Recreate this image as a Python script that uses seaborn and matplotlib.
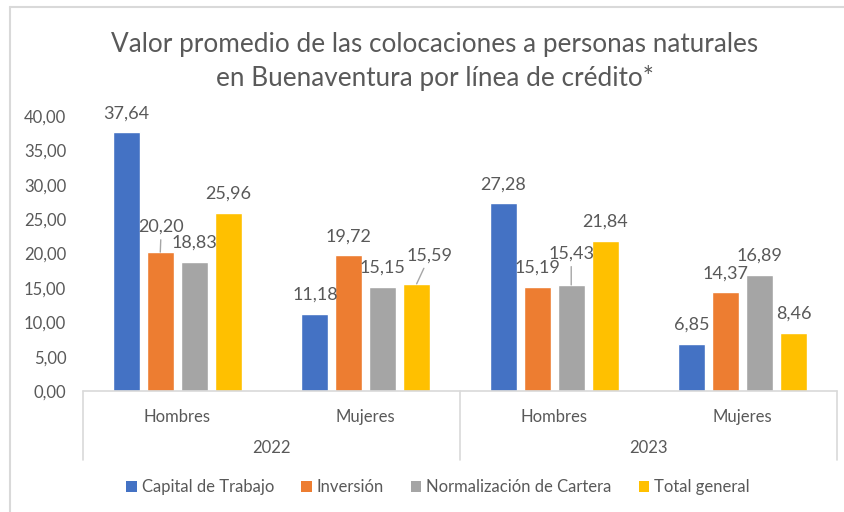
import pandas as pd
import seaborn as sns
import matplotlib.pyplot as plt
from matplotlib.lines import Line2D
from matplotlib.patches import Patch

# data
years = ["2022", "2023"]
genders = ["Hombres", "Mujeres"]
series = ["Capital de Trabajo", "Inversión", "Normalización de Cartera", "Total general"]
capital_trabajo = [37.64, 11.18, 27.28, 6.85]
inversion = [20.20, 19.72, 15.19, 14.37]
normalizacion = [18.83, 15.15, 15.43, 16.89]
total_general = [25.96, 15.59, 21.84, 8.46]

colors = ["#4472C4", "#ED7D31", "#A5A5A5", "#FFC000"]
text_color = "#595959"
line_color = "#D9D9D9"

groups = [f"{y} {g}" for y in years for g in genders]
rows = []
for name, vals in zip(series, [capital_trabajo, inversion, normalizacion, total_general]):
    for grp, v in zip(groups, vals):
        rows.append({"grupo": grp, "serie": name, "valor": v})
df = pd.DataFrame(rows)

sns.set_style("white")
plt.rcParams["font.family"] = ["Lato", "DejaVu Sans"]

fig = plt.figure(figsize=(8.44, 5.12), dpi=100)
ax = fig.add_axes([83 / 844, 121 / 512, 754 / 844, 275 / 512])

sns.barplot(data=df, x="grupo", y="valor", hue="serie", order=groups,
            hue_order=series, palette=colors, width=0.72, gap=0.2,
            saturation=1, legend=False, ax=ax)

ax.set_xlim(-0.5, 3.5)
ax.set_ylim(0, 40)
ax.set_yticks(range(0, 45, 5))
ax.set_yticklabels([f"{t:.2f}".replace(".", ",") for t in range(0, 45, 5)],
                   color=text_color, fontsize=12)
ax.tick_params(axis="y", length=0, pad=12)
ax.set_xticks(range(len(groups)))
ax.set_xticklabels([g.split()[1] for g in groups], color=text_color, fontsize=12)
ax.tick_params(axis="x", length=0, pad=13)
ax.set_xlabel("")
ax.set_ylabel("")
sns.despine(ax=ax, left=True, bottom=True)

# category axis with year level
ax.axhline(0, color=line_color, lw=1.2, clip_on=False)
for xb in [-0.5, 1.5, 3.5]:
    ax.plot([xb, xb], [0, -0.25], color=line_color, lw=1.2,
            transform=ax.get_xaxis_transform(), clip_on=False)
for i, y in enumerate(years):
    ax.text(2 * i + 0.5, -0.207, y, transform=ax.get_xaxis_transform(),
            ha="center", va="center", color=text_color, fontsize=12)

# data labels (a few are moved with a leader line, as in the original)
moved = {(0, 1): (0.7, 18), (1, 3): (9.4, 20.2), (2, 2): (0, 22.3)}
for s, cont in enumerate(ax.containers):
    for g, bar in enumerate(cont):
        xc = bar.get_x() + bar.get_width() / 2
        h = bar.get_height()
        txt = f"{h:.2f}".replace(".", ",")
        if (g, s) in moved:
            ax.annotate(txt, xy=(xc, h), xytext=moved[(g, s)], textcoords="offset points",
                        ha="center", va="center", color=text_color, fontsize=13,
                        annotation_clip=False,
                        arrowprops=dict(arrowstyle="-", color="#A6A6A6", lw=1,
                                        shrinkA=1, shrinkB=0))
        else:
            ax.annotate(txt, xy=(xc, h), xytext=(0, 13.7), textcoords="offset points",
                        ha="center", va="center", color=text_color, fontsize=13,
                        annotation_clip=False)

fig.suptitle("Valor promedio de las colocaciones a personas naturales\n"
             "en Buenaventura por línea de crédito*",
             x=435 / 844, y=1 - 32 / 512, va="top", fontsize=18.8,
             color=text_color, linespacing=1.36)

handles = [Patch(facecolor=c, edgecolor="none") for c in colors]
fig.legend(handles, series, loc="center", bbox_to_anchor=(438 / 844, 1 - 487 / 512),
           ncol=4, frameon=False, fontsize=12, handlelength=0.65, handleheight=0.65,
           handletextpad=0.3, columnspacing=1.6, labelcolor=text_color)

# outer chart frame
fig.add_artist(Line2D([10 / 844, 10 / 844], [0, 1 - 7 / 512], color=line_color, lw=1.5))
fig.add_artist(Line2D([10 / 844, 1], [1 - 7 / 512, 1 - 7 / 512], color=line_color, lw=1.5))

fig.savefig("out.png", dpi=100)
